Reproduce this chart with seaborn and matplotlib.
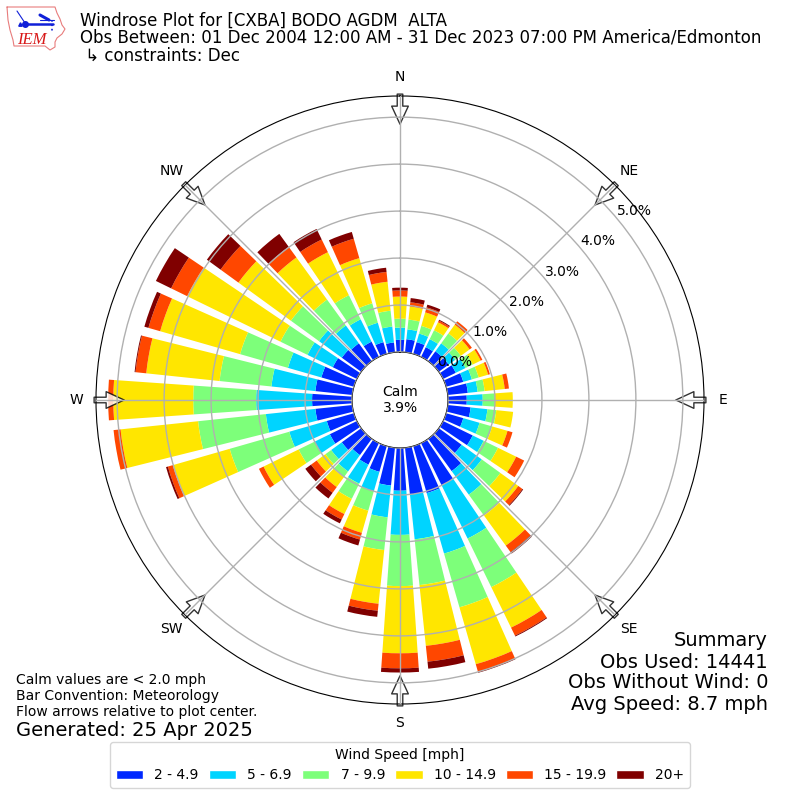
# windrose for CXBA, December obs

import numpy as np
import matplotlib
matplotlib.use("Agg")
import matplotlib.pyplot as plt
from matplotlib.patches import Patch
import seaborn as sns

# percent of obs per direction bin, 0, 10, ... 350 degrees
directions = np.arange(0, 360, 10)
pct_2_5 = [.26, .28, .26, .23, .26, .26, .30, .38, .43, .40, .49, .38, .70, .60, .85, 1.00, 1.04, 1.00,
           .91, .81, .57, .51, .43, .51, .64, .60, .79, .85, .79, .72, .57, .51, .47, .36, .26, .21]
pct_5_7 = [.26, .21, .19, .19, .21, .17, .23, .19, .21, .34, .36, .36, .26, .53, .62, 1.26, 1.34, .96,
           .94, .68, .43, .45, .43, .28, .36, .83, 1.06, 1.19, .94, .74, .60, .60, .47, .53, .43, .34]
pct_7_10 = [.19, .21, .17, .21, .26, .15, .17, .15, .15, .26, .19, .28, .34, .49, .55, 1.15, 1.19, .98,
            1.09, .70, .43, .36, .15, .15, .38, 1.32, 1.45, 1.34, 1.11, 1.06, .64, .74, .68, .57, .43, .34]
pct_10_15 = [.47, .28, .30, .19, .23, .23, .19, .21, .43, .38, .36, .34, .43, .47, .79, .96, 1.26, 1.30,
             1.43, 1.15, .49, .36, .26, .23, .83, 1.26, 1.66, 1.70, 1.57, 1.77, 2.21, 1.38, 1.11, 1.02, 1.00, .62]
pct_15_20 = [.13, .09, .11, .04, .09, .06, .04, .04, .09, 0, 0, .11, .19, .11, .17, .19, .17, .34,
             .32, .15, .15, .13, .15, .15, .11, .11, .15, .11, .23, .26, .38, .47, .28, .30, .43, .21]
pct_20_up = [.06, .09, .06, .02, 0, 0, 0, 0, 0, 0, 0, 0, 0, .02, .04, .02, .02, .15,
             .09, .13, .13, .09, .15, .15, 0, .04, 0, 0, .02, .09, .36, .36, .34, .25, .15, .09]

speed_labels = ["2 - 4.9", "5 - 6.9", "7 - 9.9", "10 - 14.9", "15 - 19.9", "20+"]
speed_colors = ["#0028ff", "#00d4ff", "#7dff7a", "#ffe600", "#ff4700", "#800000"]
compass_labels = ["N", "NE", "E", "SE", "S", "SW", "W", "NW"]
radial_ticks = [0, 1, 2, 3, 4, 5]

sns.set_style("white", {"text.color": "black", "xtick.color": "black", "ytick.color": "black",
                        "axes.edgecolor": "black", "axes.labelcolor": "black"})
plt.rcParams["font.family"] = ["DejaVu Sans"]
palette = sns.color_palette(speed_colors)

fig = plt.figure(figsize=(8, 8), dpi=100)
ax = fig.add_axes([96 / 800, 96 / 800, 608 / 800, 608 / 800], projection="polar")

# stacked bars
theta = np.radians(directions)
bottom = np.zeros(len(theta))
series = [pct_2_5, pct_5_7, pct_7_10, pct_10_15, pct_15_20, pct_20_up]
for vals, color in zip(series, palette):
    sns.barplot(x=theta, y=vals, bottom=bottom, native_scale=True, width=0.8, color=color,
                saturation=1, errorbar=None, linewidth=0, ax=ax)
    bottom = bottom + np.array(vals)

ax.set_xlabel("")
ax.set_ylabel("")
ax.set_theta_zero_location("N")
ax.set_theta_direction(-1)
ax.set_xticks(np.radians(np.arange(0, 360, 45)))
ax.set_xticklabels(compass_labels, fontsize=10)
ax.tick_params(axis="x", pad=3.5)
ax.set_ylim(0, 5.45)
ax.set_rorigin(-48 / 47)
ax.set_yticks(radial_ticks)
ax.set_yticklabels([f"{v:.1f}%" for v in radial_ticks], fontsize=10)
ax.set_rlabel_position(50)
ax.grid(True, color="#b0b0b0", linewidth=1)
ax.set_axisbelow(False)

# flow arrows pointing at the center
for deg in np.arange(0, 360, 45):
    ax.annotate("", xy=(np.radians(deg), 4.85), xytext=(np.radians(deg), 5.49), zorder=2,
                annotation_clip=False,
                arrowprops=dict(facecolor="white", edgecolor="black", alpha=0.8, linewidth=1,
                                width=4, headwidth=12, headlength=13, shrink=0))

fig.text(0.5, 0.5, "Calm\n3.9%", ha="center", va="center", fontsize=10)

# header
fig.text(80 / 800, 1 - 21 / 800, "Windrose Plot for [CXBA] BODO AGDM  ALTA", fontsize=12, va="center")
fig.text(80 / 800, 1 - 38 / 800, "Obs Between: 01 Dec 2004 12:00 AM - 31 Dec 2023 07:00 PM America/Edmonton",
         fontsize=12, va="center")
fig.text(80 / 800, 1 - 56 / 800, " \u21b3 constraints: Dec", fontsize=12, va="center")

# footers
for y, line in zip([640, 662, 683, 705], ["Summary", "Obs Used: 14441", "Obs Without Wind: 0", "Avg Speed: 8.7 mph"]):
    fig.text(768 / 800, 1 - y / 800, line, fontsize=14, ha="right", va="center")
for y, line in zip([680, 696, 712], ["Calm values are < 2.0 mph", "Bar Convention: Meteorology",
                                     "Flow arrows relative to plot center."]):
    fig.text(16 / 800, 1 - y / 800, line, fontsize=10, va="center")
fig.text(16 / 800, 1 - 730 / 800, "Generated: 25 Apr 2025", fontsize=14, va="center")

handles = [Patch(facecolor=c, label=l) for c, l in zip(palette, speed_labels)]
fig.legend(handles=handles, ncol=6, title="Wind Speed [mph]", loc="upper center", fontsize=10,
           columnspacing=0.7, bbox_to_anchor=(0.5, 1 - 735 / 800))

# logo
logo = fig.add_axes([0, 1 - 55 / 800, 70 / 800, 55 / 800])
logo.set_xlim(0, 70)
logo.set_ylim(55, 0)
logo.axis("off")
logo.plot([7, 55, 57, 60, 62, 65, 62, 57, 55, 55, 50, 45, 14, 13, 10, 8, 7],
          [7, 7, 13, 19, 25, 29, 34, 38, 42, 47, 50, 46, 46, 40, 30, 20, 7], color="#e87c7c", lw=0.8)
logo.plot([25, 53], [23.5, 23.5], color="#1020d8", lw=1.8)
logo.plot([17, 25], [11, 23], color="#1020d8", lw=0.8)
logo.plot([40, 49], [15, 20], color="#1020d8", lw=2.2)
logo.plot([40, 54], [20, 20], color="#1020d8", lw=0.8)
logo.plot([52, 52], [20, 33], color="#1020d8", lw=1.2, ls=":")
logo.plot([25], [23.5], "o", color="#1020d8", ms=4)
logo.plot([20], [24], "^", color="#1020d8", ms=2.5)
logo.text(17, 44, "IEM", family="Liberation Serif", style="italic", color="#d81818", fontsize=12, va="baseline")

fig.savefig("out.png", dpi=100)
